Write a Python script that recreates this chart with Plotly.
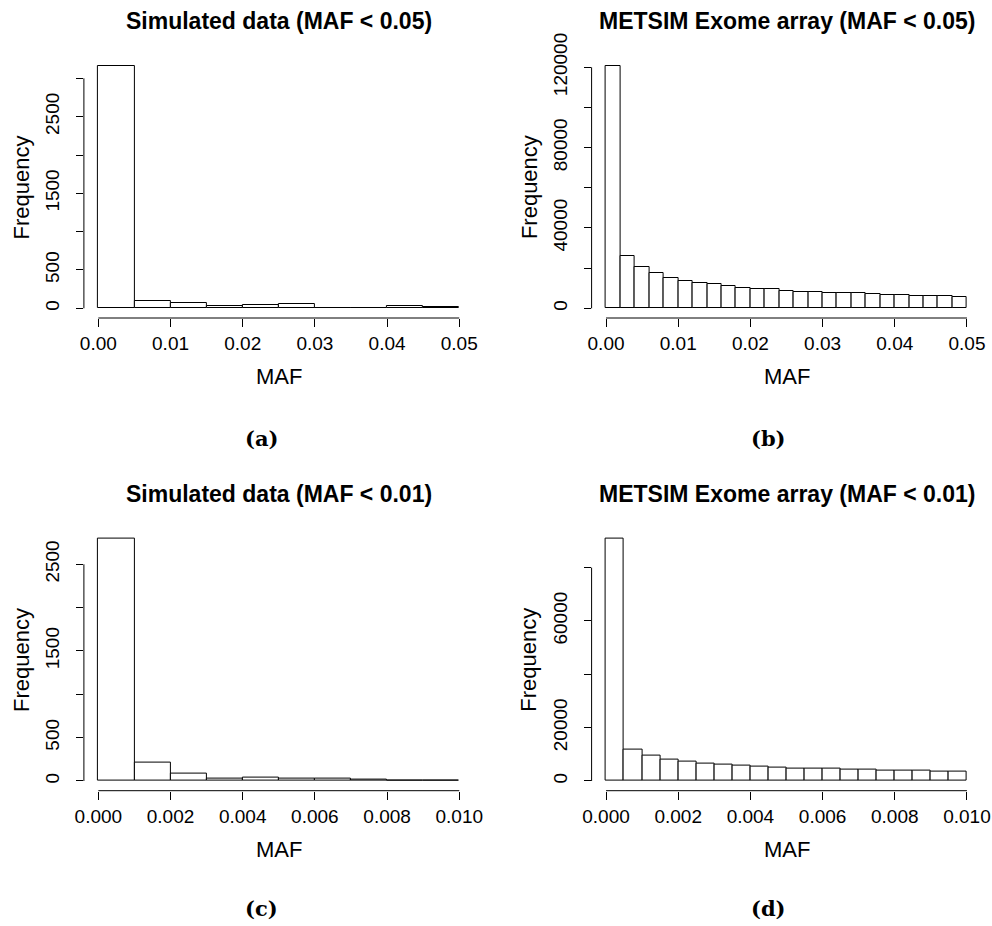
import plotly.graph_objects as go

# ---------------- data ----------------
sim05_bin_width = 0.005
sim05_counts = [3165, 99, 69, 26, 39, 52, 8, 3, 26, 13]

met05_bin_width = 0.002
met05_counts = [120800, 25800, 20500, 17400, 14900, 13400, 12500, 11950, 11000, 10300,
                9500, 9700, 8700, 8200, 7970, 7470, 7470, 7470, 7140, 6550,
                6450, 6300, 6150, 6150, 5700]

sim01_bin_width = 0.001
sim01_counts = [2800, 215, 88, 25, 38, 31, 28, 19, 10, 6]

met01_bin_width = 0.0005
met01_counts = [91000, 11875, 9500, 8000, 7125, 6625, 6250, 5750, 5550, 5200,
                4750, 4750, 4625, 4250, 4250, 4000, 3875, 3875, 3550, 3550]

x05_ticks = [0.0, 0.01, 0.02, 0.03, 0.04, 0.05]
x05_labels = ["0.00", "0.01", "0.02", "0.03", "0.04", "0.05"]
x01_ticks = [0.0, 0.002, 0.004, 0.006, 0.008, 0.010]
x01_labels = ["0.000", "0.002", "0.004", "0.006", "0.008", "0.010"]

ya_ticks = [0, 500, 1000, 1500, 2000, 2500, 3000]
ya_labels = ["0", "500", "", "1500", "", "2500", ""]
yb_ticks = [0, 20000, 40000, 60000, 80000, 100000, 120000]
yb_labels = ["0", "", "40000", "", "80000", "", "120000"]
yc_ticks = [0, 500, 1000, 1500, 2000, 2500]
yc_labels = ["0", "500", "", "1500", "", "2500"]
yd_ticks = [0, 20000, 40000, 60000, 80000]
yd_labels = ["0", "20000", "", "60000", ""]

titles = ["Simulated data (MAF < 0.05)", "METSIM Exome array (MAF < 0.05)",
          "Simulated data (MAF < 0.01)", "METSIM Exome array (MAF < 0.01)"]
captions = ["(a)", "(b)", "(c)", "(d)"]

# ---------------- layout geometry (pixels) ----------------
W, H = 992, 926
SANS = "Liberation Sans, Arial, Helvetica, sans-serif"
SERIF = "DejaVu Serif, Liberation Serif, serif"

panels = [
    dict(counts=sim05_counts, bw=sim05_bin_width, xt=x05_ticks, xl=x05_labels,
         yt=ya_ticks, yl=ya_labels, px=(83.9, 473.7), py=(56.0, 318.0), cap=(261, 438)),
    dict(counts=met05_counts, bw=met05_bin_width, xt=x05_ticks, xl=x05_labels,
         yt=yb_ticks, yl=yb_labels, px=(591.6, 981.4), py=(56.0, 318.0), cap=(768, 438)),
    dict(counts=sim01_counts, bw=sim01_bin_width, xt=x01_ticks, xl=x01_labels,
         yt=yc_ticks, yl=yc_labels, px=(83.9, 473.7), py=(528.6, 790.7), cap=(261, 908)),
    dict(counts=met01_counts, bw=met01_bin_width, xt=x01_ticks, xl=x01_labels,
         yt=yd_ticks, yl=yd_labels, px=(591.6, 981.4), py=(528.6, 790.7), cap=(768, 908)),
]

fig = go.Figure()
layout = dict(template="none", width=W, height=H, autosize=False,
              margin=dict(l=0, r=0, t=0, b=0, pad=0),
              paper_bgcolor="white", plot_bgcolor="white", showlegend=False,
              bargap=0, font=dict(family=SANS, color="black"))
annotations = []
shapes = []

for i, p in enumerate(panels):
    n = i + 1
    xa = "x" if n == 1 else f"x{n}"
    ya = "y" if n == 1 else f"y{n}"
    counts = p["counts"]
    bw = p["bw"]
    centers = [(k + 0.5) * bw for k in range(len(counts))]
    fig.add_trace(go.Bar(x=centers, y=counts, width=[bw] * len(counts),
                         marker=dict(color="white", line=dict(color="black", width=1)),
                         xaxis=xa, yaxis=ya, hoverinfo="x+y"))
    xmax = bw * len(counts)
    ymax = max(counts)
    xr = [-0.04 * xmax, 1.04 * xmax]
    yr = [-0.04 * ymax, 1.04 * ymax]
    dx = [p["px"][0] / W, p["px"][1] / W]
    dy = [1 - p["py"][1] / H, 1 - p["py"][0] / H]
    xkey = "xaxis" if n == 1 else f"xaxis{n}"
    ykey = "yaxis" if n == 1 else f"yaxis{n}"
    layout[xkey] = dict(domain=dx, range=xr, anchor=ya, showgrid=False, zeroline=False,
                        showline=False, automargin=False, ticks="outside", ticklen=8,
                        tickwidth=1, tickcolor="black", tickvals=p["xt"], ticktext=p["xl"],
                        tickfont=dict(size=19, family=SANS, color="black"))
    layout[ykey] = dict(domain=dy, range=yr, anchor=xa, showgrid=False, zeroline=False,
                        showline=False, automargin=False, ticks="outside", ticklen=7,
                        tickwidth=1, tickcolor="black", tickvals=p["yt"], ticktext=p["yl"],
                        tickangle=-90, ticklabelstandoff=9,
                        tickfont=dict(size=19, family=SANS, color="black"))
    # R-style axis lines spanning first to last tick
    shapes.append(dict(type="line", xref=xa, yref=f"{ya} domain",
                       x0=p["xt"][0], x1=p["xt"][-1], y0=0, y1=0,
                       line=dict(color="black", width=1)))
    shapes.append(dict(type="line", xref=f"{xa} domain", yref=ya,
                       x0=0, x1=0, y0=p["yt"][0], y1=p["yt"][-1],
                       line=dict(color="black", width=1)))
    cx = (p["px"][0] + p["px"][1]) / 2
    # title
    annotations.append(dict(text=f"<b>{titles[i]}</b>", xref="paper", yref="paper",
                            x=cx / W, y=1 - (p["py"][0] - 34.5) / H,
                            xanchor="center", yanchor="middle", showarrow=False,
                            font=dict(size=23, family=SANS, color="black")))
    # x title
    annotations.append(dict(text="MAF", xref="paper", yref="paper",
                            x=cx / W, y=1 - (p["py"][1] + 58.7) / H,
                            xanchor="center", yanchor="middle", showarrow=False,
                            font=dict(size=22, family=SANS, color="black")))
    # y title
    cy = (p["py"][0] + p["py"][1]) / 2
    annotations.append(dict(text="Frequency", xref="paper", yref="paper",
                            x=(p["px"][0] - 62.5) / W, y=1 - cy / H, textangle=-90,
                            xanchor="center", yanchor="middle", showarrow=False,
                            font=dict(size=22, family=SANS, color="black")))
    # caption
    annotations.append(dict(text=f"<b>{captions[i]}</b>", xref="paper", yref="paper",
                            x=p["cap"][0] / W, y=1 - p["cap"][1] / H,
                            xanchor="center", yanchor="middle", showarrow=False,
                            font=dict(size=21, family=SERIF, color="black")))

layout["annotations"] = annotations
layout["shapes"] = shapes
fig.update_layout(**layout)
fig.write_html("out.html", config={"displayModeBar": False},
               post_script="document.body.style.margin='0px';document.body.style.overflow='hidden';")
